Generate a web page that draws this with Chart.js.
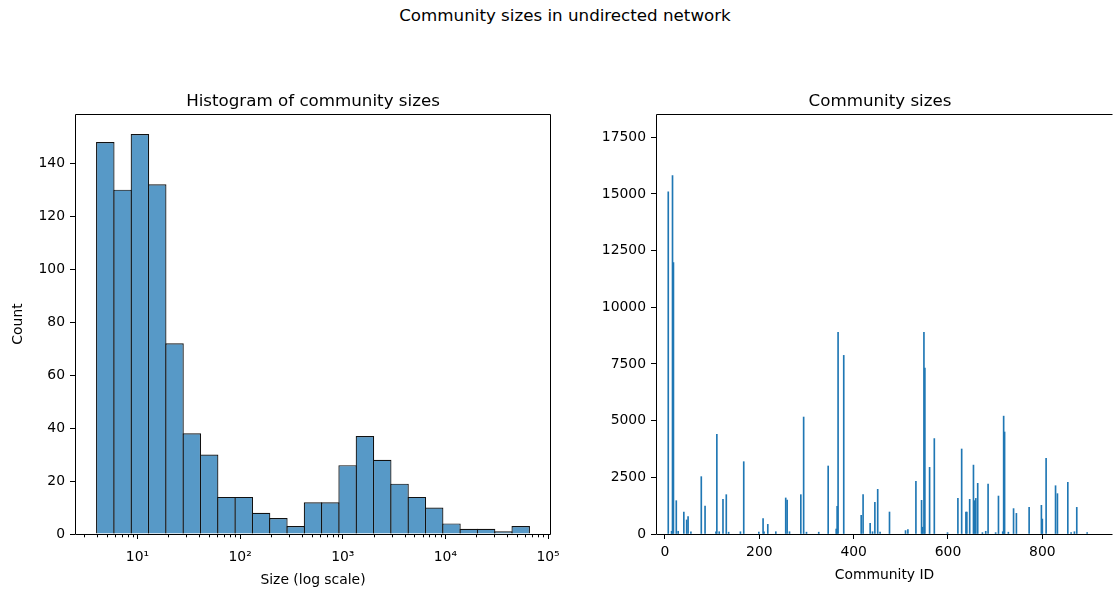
<!DOCTYPE html>
<html>
<head>
<meta charset="utf-8">
<script src="https://cdn.jsdelivr.net/npm/chart.js@4"></script>
<style>
  body { margin: 0; width: 1113px; height: 592px; background: #fff; position: relative; overflow: hidden; font-family: "DejaVu Sans", sans-serif; }
  #suptitle { position: absolute; left: 0; top: 5px; width: 1130px; text-align: center; font-size: 16.7px; line-height: 20px; color: #000; }
  #histWrap { position: absolute; left: 0; top: 0; width: 580px; height: 592px; }
  #sizeWrap { position: absolute; left: 580px; top: 0; width: 533px; height: 592px; }
</style>
</head>
<body>
<div id="suptitle">Community sizes in undirected network</div>
<div id="histWrap"><canvas id="histChart" width="580" height="592"></canvas></div>
<div id="sizeWrap"><canvas id="sizeChart" width="533" height="592"></canvas></div>
<script>
const histCounts = [148, 130, 151, 132, 72, 38, 30, 14, 14, 8, 6, 3, 12, 12, 26, 37, 28, 19, 14, 10, 4, 2, 2, 1, 3];
const histMinSize = 4;
const histMaxSize = 65800;
const logTicks = [1, 2, 3, 4, 5];
const logTickLabels = ['10¹', '10²', '10³', '10⁴', '10⁵'];
const countTicks = [0, 20, 40, 60, 80, 100, 120, 140];

const communityIds = [7, 14, 16, 18, 24, 28, 40, 46, 49, 55, 77, 85, 108, 110, 115, 123, 130, 135, 160, 167, 199, 208, 210, 218, 235,
  256, 259, 264, 288, 294, 300, 326, 346, 363, 365, 367, 379, 416, 420, 435, 440, 445, 451, 456, 476, 510, 515, 532, 544, 546,
  549, 551, 561, 571, 599, 621, 629, 638, 640, 646, 654, 656, 659, 663, 673, 680, 685, 701, 707, 716, 718, 720, 728, 739, 745,
  772, 798, 800, 808, 828, 832, 854, 861, 868, 873, 895];
const communitySizes = [15100, 120, 15810, 11970, 1470, 120, 970, 620, 765, 100, 2530, 1235, 100, 4400, 100, 1530, 1735, 80, 100, 3190, 80, 675, 100, 425, 100,
  1590, 1500, 100, 1735, 5160, 80, 80, 3000, 220, 1220, 8900, 7880, 825, 1735, 470, 100, 1400, 1970, 80, 970, 150, 190, 2320, 1485, 300,
  8900, 7320, 2940, 4210, 60, 1570, 3750, 970, 970, 1530, 3040, 1470, 1570, 2235, 60, 120, 2200, 60, 1675, 100, 5200, 4500, 80, 1120, 910,
  1175, 1265, 660, 3340, 2130, 1780, 2280, 60, 100, 1175, 60];
const idTicks = [0, 200, 400, 600, 800];
const sizeTicks = [0, 2500, 5000, 7500, 10000, 12500, 15000, 17500];

Chart.defaults.font.family = 'DejaVu Sans';
Chart.defaults.font.size = 13.9;
Chart.defaults.color = '#000';

const logLo = Math.log10(histMinSize);
const logHi = Math.log10(histMaxSize);
const binStep = (logHi - logLo) / histCounts.length;
const histPoints = histCounts.map((c, i) => ({ x: logLo + (i + 0.5) * binStep, y: c }));

const xLogMin = logLo - 0.05 * (logHi - logLo);
const xLogMax = logHi + 0.05 * (logHi - logLo);
const minorTicks = [];
logTicks.forEach(n => {
  for (let k = 2; k <= 9; k++) {
    const v = n - 1 + Math.log10(k);
    if (v > xLogMin && v < xLogMax) minorTicks.push(v);
  }
});

const frame = {
  id: 'frame',
  afterDatasetsDraw(chart, args, opts) {
    const { ctx, chartArea: a } = chart;
    const l = a.left + 0.5, t = a.top + 0.5, r = a.right - 0.5, b = a.bottom + 0.5;
    ctx.save();
    ctx.strokeStyle = '#000';
    ctx.lineWidth = 1;
    ctx.beginPath();
    ctx.moveTo(r, t);
    ctx.lineTo(l, t);
    ctx.lineTo(l, b);
    ctx.lineTo(r, b);
    if (opts.right) ctx.lineTo(r, t);
    ctx.stroke();
    if (opts.minor) {
      const s = chart.scales.x;
      ctx.beginPath();
      opts.minor.forEach(v => {
        const px = Math.round(s.getPixelForValue(v)) + 0.5;
        ctx.moveTo(px, b);
        ctx.lineTo(px, b + 2.8);
      });
      ctx.stroke();
    }
    ctx.fillStyle = '#000';
    ctx.font = '16.7px "DejaVu Sans"';
    ctx.textAlign = 'center';
    ctx.textBaseline = 'alphabetic';
    ctx.fillText(opts.title, opts.titleX !== undefined ? opts.titleX : (a.left + a.right) / 2, a.top - 8);
    ctx.restore();
  }
};

const tickGrid = { drawOnChartArea: false, drawTicks: true, offset: false, tickLength: 5, tickColor: '#000', tickWidth: 1 };

new Chart(document.getElementById('histChart').getContext('2d'), {
  type: 'bar',
  data: {
    datasets: [{
      data: histPoints,
      backgroundColor: 'rgba(31, 119, 180, 0.75)',
      borderColor: '#111',
      borderWidth: 1.2,
      barPercentage: 1.069,
      categoryPercentage: 1
    }]
  },
  options: {
    responsive: false,
    animation: false,
    layout: { padding: { top: 114, right: 29, left: 0, bottom: 0 } },
    plugins: {
      legend: { display: false },
      tooltip: { enabled: false },
      frame: { title: 'Histogram of community sizes', right: true, minor: minorTicks }
    },
    scales: {
      x: {
        type: 'linear',
        offset: false,
        min: xLogMin,
        max: xLogMax,
        grid: tickGrid,
        border: { display: false },
        afterBuildTicks: s => { s.ticks = logTicks.map(v => ({ value: v })); },
        afterFit: s => { s.height = 58; },
        ticks: {
          autoSkip: false, maxRotation: 0, padding: 10,
          callback: (v) => logTickLabels[logTicks.indexOf(v)]
        },
        title: { display: true, text: 'Size (log scale)', padding: { top: 0, bottom: 3 } }
      },
      y: {
        min: 0,
        max: 151 * 1.05,
        grid: tickGrid,
        border: { display: false },
        afterBuildTicks: s => { s.ticks = countTicks.map(v => ({ value: v })); },
        afterFit: s => { s.width = 75; },
        ticks: { autoSkip: false, padding: 5, callback: v => String(v) },
        title: { display: true, text: 'Count', padding: { top: 10, bottom: 0 } }
      }
    }
  },
  plugins: [frame]
});

new Chart(document.getElementById('sizeChart').getContext('2d'), {
  type: 'bar',
  data: {
    datasets: [{
      data: communityIds.map((id, i) => ({ x: id, y: communitySizes[i] })),
      backgroundColor: '#1f77b4',
      barThickness: 1
    }]
  },
  options: {
    responsive: false,
    animation: false,
    layout: { padding: { top: 114, right: 0, left: 0, bottom: 0 } },
    plugins: {
      legend: { display: false },
      tooltip: { enabled: false },
      frame: { title: 'Community sizes', right: false, titleX: 300 }
    },
    scales: {
      x: {
        type: 'linear',
        offset: false,
        min: -19,
        max: 949.8,
        grid: tickGrid,
        border: { display: false },
        afterBuildTicks: s => { s.ticks = idTicks.map(v => ({ value: v })); },
        afterFit: s => { s.height = 58; },
        ticks: { autoSkip: false, maxRotation: 0, padding: 5, callback: v => String(v) },
        title: { display: true, text: 'Community ID', padding: { top: 0, bottom: 8.7 } }
      },
      y: {
        min: 0,
        max: 18529,
        grid: tickGrid,
        border: { display: false },
        afterBuildTicks: s => { s.ticks = sizeTicks.map(v => ({ value: v })); },
        afterFit: s => { s.width = 76; },
        ticks: { autoSkip: false, padding: 5, callback: v => String(v) }
      }
    }
  },
  plugins: [frame]
});
</script>
</body>
</html>
